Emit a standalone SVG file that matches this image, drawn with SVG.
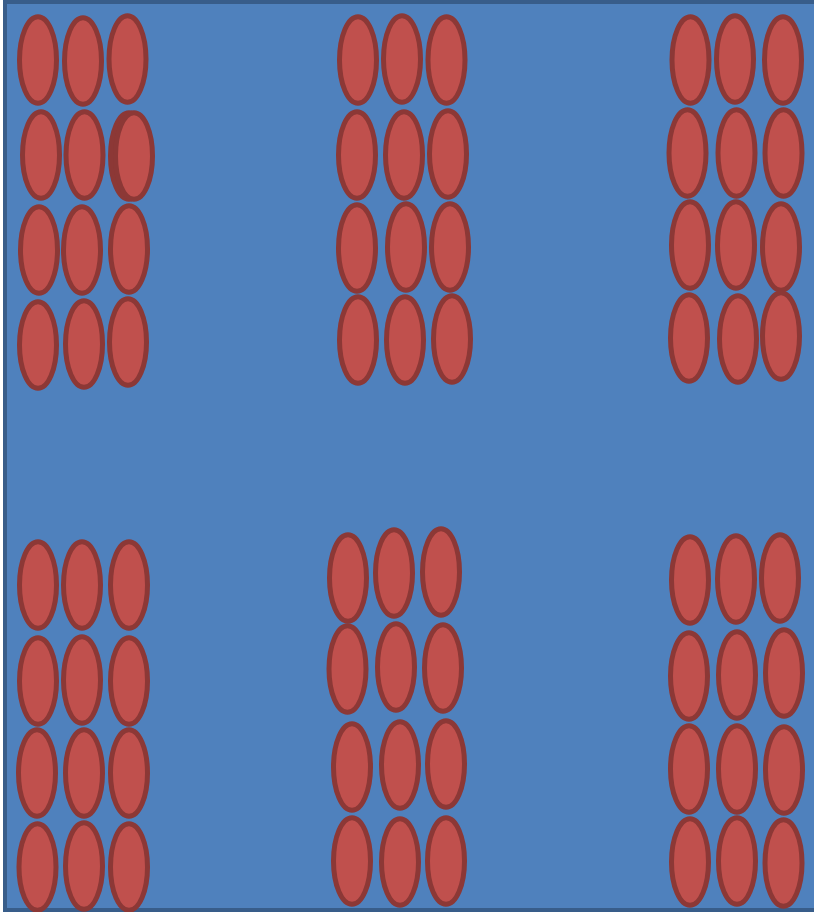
<svg xmlns="http://www.w3.org/2000/svg" width="814" height="912" viewBox="0 0 814 912">
<style>
.bg{fill:#4F81BD;stroke:#385D8A;stroke-width:4}
.e{fill:#C0504D;stroke:#8C3836;stroke-width:5}
.s{fill:#8C3836;stroke:#8C3836;stroke-width:5}
</style>
<rect class="bg" x="5" y="2" width="816" height="908"/>
<g id="group-top-left">
<ellipse class="e" cx="38" cy="60" rx="18.5" ry="43.3"/>
<ellipse class="e" cx="83" cy="61" rx="18.5" ry="43.3"/>
<ellipse class="e" cx="127.5" cy="59" rx="18.5" ry="43.3"/>
<ellipse class="e" cx="41" cy="155" rx="18.5" ry="43.3"/>
<ellipse class="e" cx="84.5" cy="155" rx="18.5" ry="43.3"/>
<ellipse class="s" cx="129" cy="156" rx="18.5" ry="43.3"/>
<ellipse class="e" cx="134" cy="156" rx="18.5" ry="43.3"/>
<ellipse class="e" cx="39" cy="250" rx="18.5" ry="43.3"/>
<ellipse class="e" cx="82" cy="250" rx="18.5" ry="43.3"/>
<ellipse class="e" cx="129" cy="249" rx="18.5" ry="43.3"/>
<ellipse class="e" cx="38" cy="345" rx="18.5" ry="43.3"/>
<ellipse class="e" cx="84" cy="344" rx="18.5" ry="43.3"/>
<ellipse class="e" cx="128" cy="342" rx="18.5" ry="43.3"/>
</g>
<g id="group-top-middle">
<ellipse class="e" cx="358" cy="60" rx="18.5" ry="43.3"/>
<ellipse class="e" cx="402" cy="59" rx="18.5" ry="43.3"/>
<ellipse class="e" cx="446.5" cy="60" rx="18.5" ry="43.3"/>
<ellipse class="e" cx="357" cy="155" rx="18.5" ry="43.3"/>
<ellipse class="e" cx="404" cy="155" rx="18.5" ry="43.3"/>
<ellipse class="e" cx="448" cy="154" rx="18.5" ry="43.3"/>
<ellipse class="e" cx="357" cy="248" rx="18.5" ry="43.3"/>
<ellipse class="e" cx="406" cy="247" rx="18.5" ry="43.3"/>
<ellipse class="e" cx="450" cy="247" rx="18.5" ry="43.3"/>
<ellipse class="e" cx="358" cy="340" rx="18.5" ry="43.3"/>
<ellipse class="e" cx="405" cy="340" rx="18.5" ry="43.3"/>
<ellipse class="e" cx="452" cy="339" rx="18.5" ry="43.3"/>
</g>
<g id="group-top-right">
<ellipse class="e" cx="690.5" cy="60" rx="18.5" ry="43.3"/>
<ellipse class="e" cx="735" cy="59" rx="18.5" ry="43.3"/>
<ellipse class="e" cx="783" cy="60" rx="18.5" ry="43.3"/>
<ellipse class="e" cx="687.5" cy="153" rx="18.5" ry="43.3"/>
<ellipse class="e" cx="736.5" cy="153" rx="18.5" ry="43.3"/>
<ellipse class="e" cx="783.5" cy="153" rx="18.5" ry="43.3"/>
<ellipse class="e" cx="690" cy="245" rx="18.5" ry="43.3"/>
<ellipse class="e" cx="736" cy="245" rx="18.5" ry="43.3"/>
<ellipse class="e" cx="781" cy="247" rx="18.5" ry="43.3"/>
<ellipse class="e" cx="689" cy="338" rx="18.5" ry="43.3"/>
<ellipse class="e" cx="738" cy="339" rx="18.5" ry="43.3"/>
<ellipse class="e" cx="781" cy="336" rx="18.5" ry="43.3"/>
</g>
<g id="group-bottom-left">
<ellipse class="e" cx="38" cy="585" rx="18.5" ry="43.3"/>
<ellipse class="e" cx="82" cy="585" rx="18.5" ry="43.3"/>
<ellipse class="e" cx="129" cy="585" rx="18.5" ry="43.3"/>
<ellipse class="e" cx="38" cy="681" rx="18.5" ry="43.3"/>
<ellipse class="e" cx="82" cy="680" rx="18.5" ry="43.3"/>
<ellipse class="e" cx="129" cy="681" rx="18.5" ry="43.3"/>
<ellipse class="e" cx="37" cy="773" rx="18.5" ry="43.3"/>
<ellipse class="e" cx="84" cy="773" rx="18.5" ry="43.3"/>
<ellipse class="e" cx="129" cy="773" rx="18.5" ry="43.3"/>
<ellipse class="e" cx="37.5" cy="867" rx="18.5" ry="43.3"/>
<ellipse class="e" cx="84" cy="866" rx="18.5" ry="43.3"/>
<ellipse class="e" cx="129" cy="867" rx="18.5" ry="43.3"/>
</g>
<g id="group-bottom-middle">
<ellipse class="e" cx="348" cy="578" rx="18.5" ry="43.3"/>
<ellipse class="e" cx="394" cy="573" rx="18.5" ry="43.3"/>
<ellipse class="e" cx="441" cy="572" rx="18.5" ry="43.3"/>
<ellipse class="e" cx="347.5" cy="669" rx="18.5" ry="43.3"/>
<ellipse class="e" cx="396" cy="667" rx="18.5" ry="43.3"/>
<ellipse class="e" cx="443" cy="668" rx="18.5" ry="43.3"/>
<ellipse class="e" cx="352" cy="767" rx="18.5" ry="43.3"/>
<ellipse class="e" cx="400" cy="765" rx="18.5" ry="43.3"/>
<ellipse class="e" cx="446" cy="764" rx="18.5" ry="43.3"/>
<ellipse class="e" cx="352" cy="861" rx="18.5" ry="43.3"/>
<ellipse class="e" cx="400" cy="862" rx="18.5" ry="43.3"/>
<ellipse class="e" cx="446" cy="861" rx="18.5" ry="43.3"/>
</g>
<g id="group-bottom-right">
<ellipse class="e" cx="690" cy="580" rx="18.5" ry="43.3"/>
<ellipse class="e" cx="736" cy="579" rx="18.5" ry="43.3"/>
<ellipse class="e" cx="780" cy="578" rx="18.5" ry="43.3"/>
<ellipse class="e" cx="689" cy="676" rx="18.5" ry="43.3"/>
<ellipse class="e" cx="737" cy="675" rx="18.5" ry="43.3"/>
<ellipse class="e" cx="784" cy="673" rx="18.5" ry="43.3"/>
<ellipse class="e" cx="689" cy="769" rx="18.5" ry="43.3"/>
<ellipse class="e" cx="737" cy="769" rx="18.5" ry="43.3"/>
<ellipse class="e" cx="784" cy="770" rx="18.5" ry="43.3"/>
<ellipse class="e" cx="690" cy="862" rx="18.5" ry="43.3"/>
<ellipse class="e" cx="737" cy="861" rx="18.5" ry="43.3"/>
<ellipse class="e" cx="783.5" cy="863" rx="18.5" ry="43.3"/>
</g>
</svg>
